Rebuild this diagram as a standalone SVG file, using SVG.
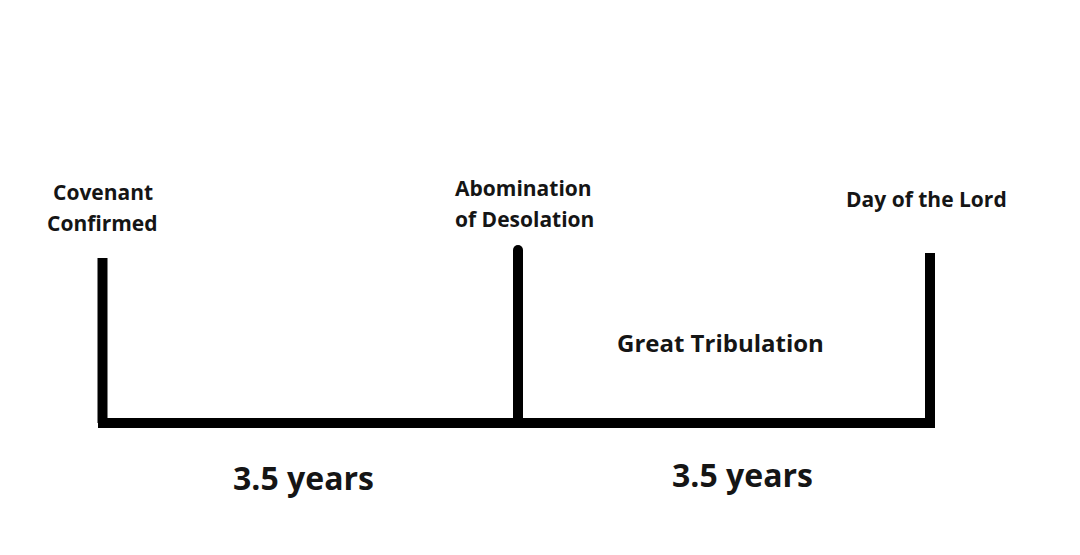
<svg xmlns="http://www.w3.org/2000/svg" width="1080" height="555" viewBox="0 0 1080 555">
<style>
.lbl{font-family:"Open Sans","Liberation Sans",sans-serif;font-weight:700;fill:#151515;font-size:21px}
.big{font-size:24px}
.yr{font-size:32px}
.bar{stroke:#000;stroke-width:10;fill:none}
</style>
<rect width="1080" height="555" fill="#fff"/>
<g id="connectors">
<line class="bar" x1="98" y1="423" x2="935" y2="423"/>
</g>
<g id="covenant">
<line class="bar" x1="102.5" y1="258" x2="102.5" y2="423"/>
<text class="lbl" x="53" y="200">Covenant</text>
<text class="lbl" x="47" y="231">Confirmed</text>
</g>
<g id="abomination">
<line class="bar" x1="518" y1="250" x2="518" y2="423" stroke-linecap="round"/>
<text class="lbl" x="455" y="196">Abomination</text>
<text class="lbl" x="455" y="227">of Desolation</text>
</g>
<g id="dayoflord">
<line class="bar" x1="930" y1="253" x2="930" y2="428"/>
<text class="lbl" x="846" y="207">Day of the Lord</text>
</g>
<g id="tribulation">
<text class="lbl big" x="617" y="352">Great Tribulation</text>
</g>
<g id="period1">
<text class="lbl yr" x="233" y="490">3.5 years</text>
</g>
<g id="period2">
<text class="lbl yr" x="672" y="487">3.5 years</text>
</g>
</svg>
